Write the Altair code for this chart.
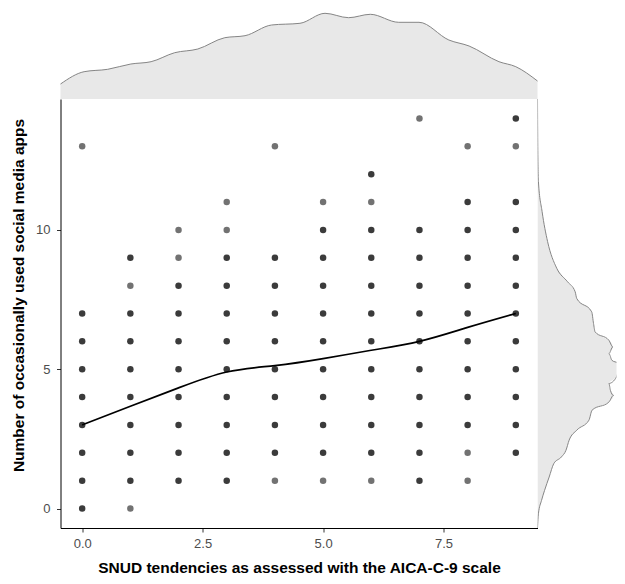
import altair as alt
import pandas as pd

# ---- scatter data (integer grid); dark = overlapping observations, light = single
col_x = [0, 1, 2, 3, 4, 5, 6, 7, 8, 9]
dark_y = [
    [0, 1, 2, 3, 4, 5, 6, 7],
    [1, 2, 3, 4, 5, 6, 7, 9],
    [1, 2, 3, 4, 5, 6, 7, 8],
    [1, 2, 3, 4, 5, 6, 7, 8, 9],
    [2, 3, 4, 5, 6, 7, 8, 9],
    [2, 3, 4, 5, 6, 7, 8, 9, 10],
    [2, 3, 4, 5, 6, 7, 8, 9, 10, 12],
    [1, 2, 3, 4, 5, 6, 7, 8, 9, 10],
    [3, 4, 5, 6, 7, 8, 9, 10, 11],
    [2, 3, 4, 5, 6, 7, 8, 9, 10, 11, 14],
]
light_y = [
    [13],
    [0, 8],
    [9, 10],
    [10, 11],
    [1, 13],
    [1, 11],
    [1, 11],
    [14],
    [1, 2, 13],
    [13],
]

# ---- smoothed trend (loess)
smooth_x = [0, 1, 2, 3, 4, 5, 6, 7, 8, 9]
smooth_y = [3.0, 3.67, 4.33, 4.9, 5.13, 5.38, 5.68, 6.0, 6.5, 7.0]

# ---- marginal density of x (top)
top_x = [-0.45, 0.04, 0.53, 1.01, 1.43, 1.92, 2.40, 2.96, 3.38, 3.93, 4.52,
         5.04, 5.53, 5.98, 6.57, 6.99, 7.61, 8.03, 8.65, 9.0, 9.45]
top_d = [0.150, 0.273, 0.297, 0.350, 0.373, 0.463, 0.500, 0.613, 0.633, 0.740, 0.757,
         0.857, 0.813, 0.847, 0.767, 0.767, 0.590, 0.530, 0.373, 0.323, 0.180]

# ---- marginal density of y (right)
right_y = [14.7, 13.0, 11.74, 10.66, 9.58, 8.62, 8.14, 7.78, 7.54, 7.06, 6.64, 6.34,
           6.04, 5.80, 5.56, 5.32, 5.21, 4.96, 4.72, 4.49, 4.24, 4.06, 3.82, 3.53,
           3.17, 2.81, 2.45, 2.09, 1.85, 1.61, 1.13, 0.65, 0.29, -0.19, -0.7]
right_d = [0.0, 0.003, 0.01, 0.05, 0.11, 0.21, 0.327, 0.41, 0.427, 0.59, 0.61, 0.627,
           0.777, 0.82, 0.777, 0.81, 0.877, 0.877, 0.86, 0.777, 0.794, 0.827, 0.777, 0.594,
           0.56, 0.427, 0.344, 0.31, 0.26, 0.177, 0.127, 0.077, 0.044, 0.01, 0.0]

rows = []
for cx, ds, ls in zip(col_x, dark_y, light_y):
    for v in ds:
        rows.append({"x": cx, "y": v, "grp": "overlap"})
    for v in ls:
        rows.append({"x": cx, "y": v, "grp": "single"})
pts = pd.DataFrame(rows)
smooth = pd.DataFrame({"x": smooth_x, "y": smooth_y})
topdf = pd.DataFrame({"x": top_x, "d": top_d})
rightdf = pd.DataFrame({"y": right_y, "d": right_d})

XDOM = [-0.45, 9.45]
YDOM = [-0.7, 14.7]
FILL = "#e8e8e8"
LINE = "#858585"

xscale = alt.Scale(domain=XDOM, nice=False, zero=False)
yscale = alt.Scale(domain=YDOM, nice=False, zero=False)

points = alt.Chart(pts).mark_circle(size=42, opacity=1).encode(
    x=alt.X("x:Q", scale=xscale,
            axis=alt.Axis(values=[0, 2.5, 5, 7.5], format=".1f",
                          title="SNUD tendencies as assessed with the AICA-C-9 scale",
                          labelPadding=5, titlePadding=10.5)),
    y=alt.Y("y:Q", scale=yscale,
            axis=alt.Axis(values=[0, 5, 10], format="d",
                          title="Number of occasionally used social media apps",
                          labelPadding=6.5, titlePadding=9, titleY=196)),
    color=alt.Color("grp:N", scale=alt.Scale(domain=["single", "overlap"],
                                             range=["#727272", "#3b3b3b"]), legend=None),
)
line = alt.Chart(smooth).mark_line(color="black", strokeWidth=1.7, interpolate="natural").encode(
    x=alt.X("x:Q", scale=xscale),
    y=alt.Y("y:Q", scale=yscale),
)
main = alt.layer(points, line).properties(width=477, height=429)

top_base = alt.Chart(topdf).encode(
    x=alt.X("x:Q", scale=xscale, axis=None),
    y=alt.Y("d:Q", scale=alt.Scale(domain=[0, 0.91], nice=False), axis=None),
)
top = alt.layer(
    top_base.mark_area(color=FILL, interpolate="monotone"),
    top_base.mark_line(color=LINE, strokeWidth=1, interpolate="monotone"),
).properties(width=477, height=91)

rscale = alt.Scale(domain=[0, 0.86], nice=False)
right_area = alt.Chart(rightdf).mark_area(color=FILL, orient="horizontal",
                                          interpolate="monotone", clip=True).encode(
    y=alt.Y("y:Q", scale=yscale, axis=None),
    x=alt.X("d:Q", scale=rscale, axis=None, stack=None),
)
right_line = alt.Chart(rightdf).mark_line(color=LINE, strokeWidth=1,
                                          interpolate="monotone", clip=True).encode(
    y=alt.Y("y:Q", scale=yscale, axis=None),
    x=alt.X("d:Q", scale=rscale, axis=None),
    order=alt.Order("y:Q"),
)
right = alt.layer(right_area, right_line).properties(width=79, height=429)

blank = alt.Chart(pd.DataFrame({"a": [0]})).mark_point(opacity=0).encode(
    x=alt.X("a:Q", axis=None), y=alt.Y("a:Q", axis=None)
).properties(width=79, height=91)

chart = alt.concat(top, blank, main, right, columns=2, spacing=0,
                   bounds="flush", align="each").properties(
    padding={"left": 3.5, "top": 0, "right": 0, "bottom": 0}
).configure_view(strokeWidth=0).configure_axis(
    grid=False, domainColor="#000000", domainWidth=1, tickColor="#333333", tickSize=4,
    labelColor="#4d4d4d", labelFontSize=13, labelFont="Liberation Sans",
    titleFont="Liberation Sans", titleFontSize=15.5, titleFontWeight="bold", titleColor="#000000",
)

chart.save("out.html", embed_options={"renderer": "svg", "actions": False})
